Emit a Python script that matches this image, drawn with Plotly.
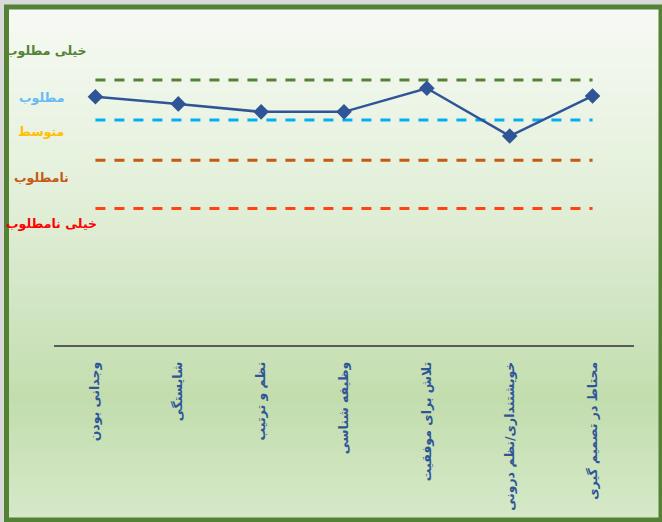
import plotly.graph_objects as go

# ---------------- data ----------------
categories = [
    "وجدانی بودن",
    "شایستگی",
    "نظم و ترتیب",
    "وظیفه شناسی",
    "تلاش برای موفقیت",
    "خویشتنداری/نظم درونی",
    "محتاط در تصمیم گیری",
]
scores = [93.6, 90.9, 87.9, 87.9, 96.8, 78.8, 93.9]

level_names = ["خیلی مطلوب", "مطلوب", "متوسط", "نامطلوب", "خیلی نامطلوب"]
level_lines = [99.9, 84.8, 69.7, 51.5]  # dashed reference lines

# ---------------- layout geometry ----------------
W, H = 662, 522
ML, MR, MT, MB = 54, 28, 40, 177
PW, PH = W - ML - MR, H - MT - MB


def px2x(px):
    return (px - ML) / PW


def px2y(py):
    return (H - MB - py) / PH


fig = go.Figure()

line_colors = ["#548235", "#00B0F0", "#C55A11", "#FF4411"]
for val, col in zip(level_lines, line_colors):
    fig.add_trace(go.Scatter(
        x=categories, y=[val] * len(categories), mode="lines",
        line=dict(color=col, width=3, dash="10px,9px"),
        hoverinfo="skip", showlegend=False,
    ))

fig.add_trace(go.Scatter(
    x=categories, y=scores, mode="lines+markers",
    line=dict(color="#2F5597", width=2.5),
    marker=dict(symbol="diamond", size=12, color="#2F5597"),
    showlegend=False,
))

# ---------------- background gradient + frame ----------------
shapes = []
stops = [(8, (247, 250, 244)), (200, (226, 239, 217)), (400, (194, 221, 174)), (520, (214, 233, 200))]


def color_at(py):
    for (y0, c0), (y1, c1) in zip(stops[:-1], stops[1:]):
        if y0 <= py <= y1:
            t = (py - y0) / (y1 - y0)
            return "rgb(%d,%d,%d)" % tuple(round(a + (b - a) * t) for a, b in zip(c0, c1))
    return "rgb(%d,%d,%d)" % stops[-1][1]


band = 6
py = 8
while py < 520:
    shapes.append(dict(
        type="rect", xref="paper", yref="paper", layer="below",
        x0=px2x(8), x1=px2x(660), y0=px2y(py), y1=px2y(min(py + band, 520)),
        fillcolor=color_at(py + band / 2), line=dict(width=0),
    ))
    py += band

shapes.append(dict(
    type="rect", xref="paper", yref="paper", layer="above",
    x0=px2x(6.5), x1=px2x(661), y0=px2y(7), y1=px2y(520),
    line=dict(color="#548235", width=5), fillcolor="rgba(0,0,0,0)",
))

# ---------------- left level labels ----------------
label_colors = ["#548235", "#66BBF5", "#FFC000", "#C55A11", "#FF0000"]
label_pos = [(46, 50), (41, 97), (41, 131), (41, 177), (51, 223)]
annotations = []
for name, col, (lx, ly) in zip(level_names, label_colors, label_pos):
    annotations.append(dict(
        text="<b>%s</b>" % name, xref="paper", yref="paper",
        x=px2x(lx), y=px2y(ly), xanchor="center", yanchor="middle",
        showarrow=False, font=dict(family="DejaVu Sans", size=12.5, color=col),
    ))

fig.update_layout(
    width=W, height=H,
    margin=dict(l=ML, r=MR, t=MT, b=MB, autoexpand=False),
    paper_bgcolor="#D9D9D9",
    plot_bgcolor="rgba(0,0,0,0)",
    shapes=shapes,
    annotations=annotations,
    xaxis=dict(
        range=[-0.5, 6.5], showgrid=False, zeroline=False,
        showline=True, linecolor="#5A5A5A", linewidth=1.5,
        ticks="", tickangle=-90, automargin=False,
        tickfont=dict(family="DejaVu Sans", size=12.5, color="#2F5597", weight="bold"),
        ticklabelstandoff=10,
    ),
    yaxis=dict(range=[0, 115], visible=False, automargin=False),
)

fig.write_html(
    "out.html",
    config={"displayModeBar": False},
    post_script="document.body.style.margin='0';document.body.style.overflow='hidden';",
)
